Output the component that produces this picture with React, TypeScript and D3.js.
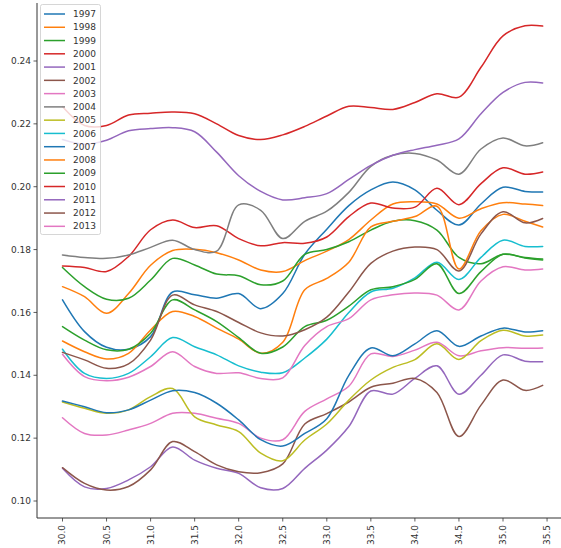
import React from 'react';
import * as d3 from 'd3';

// Sample positions shared by every yearly series
const xs = [30.0, 30.25, 30.5, 30.75, 31.0, 31.25, 31.5, 31.75, 32.0, 32.25, 32.5, 32.75,
  33.0, 33.25, 33.5, 33.75, 34.0, 34.25, 34.5, 34.75, 35.0, 35.25, 35.45];

const years = ['1997', '1998', '1999', '2000', '2001', '2002', '2003', '2004', '2005',
  '2006', '2007', '2008', '2009', '2010', '2011', '2012', '2013'];

const y1997 = [0.1640, 0.1539, 0.1489, 0.1483, 0.1523, 0.1665, 0.1656, 0.1645, 0.1660, 0.1612, 0.1660, 0.1785, 0.1865, 0.1940, 0.1990, 0.2015, 0.1990, 0.1925, 0.1878, 0.1945, 0.1998, 0.1985, 0.1983];
const y1998 = [0.1682, 0.1650, 0.1597, 0.1660, 0.1750, 0.1797, 0.1801, 0.1790, 0.1767, 0.1735, 0.1730, 0.1765, 0.1795, 0.1832, 0.1894, 0.1945, 0.1952, 0.1945, 0.1900, 0.1930, 0.1949, 0.1945, 0.1940];
const y1999 = [0.1743, 0.1682, 0.1642, 0.1645, 0.1703, 0.1772, 0.1751, 0.1722, 0.1717, 0.1688, 0.1700, 0.1785, 0.1800, 0.1825, 0.1862, 0.1890, 0.1892, 0.1862, 0.1775, 0.1755, 0.1785, 0.1775, 0.1770];
const y2000 = [0.1748, 0.1743, 0.1730, 0.1778, 0.1863, 0.1894, 0.1870, 0.1876, 0.1835, 0.1812, 0.1822, 0.1820, 0.1840, 0.1905, 0.1948, 0.1932, 0.1935, 0.1995, 0.1943, 0.2010, 0.2060, 0.2040, 0.2047];
const y2001 = [0.1104, 0.1045, 0.1040, 0.1067, 0.1109, 0.1172, 0.1130, 0.1104, 0.1088, 0.1042, 0.1040, 0.1104, 0.1162, 0.1237, 0.1350, 0.1340, 0.1390, 0.1430, 0.1340, 0.1400, 0.1465, 0.1445, 0.1443];
const y2002 = [0.1106, 0.1056, 0.1035, 0.1046, 0.1099, 0.1189, 0.1157, 0.1115, 0.1093, 0.1090, 0.1118, 0.1245, 0.1278, 0.1315, 0.1362, 0.1375, 0.1390, 0.1345, 0.1205, 0.1305, 0.1385, 0.1352, 0.1368];
const y2003 = [0.1265, 0.1215, 0.1210, 0.1226, 0.1247, 0.1279, 0.1279, 0.1263, 0.1247, 0.1200, 0.1195, 0.1285, 0.1325, 0.1365, 0.1468, 0.1460, 0.1480, 0.1505, 0.1462, 0.1478, 0.1488, 0.1486, 0.1487];
const y2004 = [0.1783, 0.1775, 0.1772, 0.1783, 0.1807, 0.1830, 0.1800, 0.1795, 0.1942, 0.1925, 0.1835, 0.1890, 0.1922, 0.1982, 0.2065, 0.2100, 0.2106, 0.2085, 0.2040, 0.2120, 0.2155, 0.2130, 0.2140];
const y2005 = [0.1315, 0.1295, 0.1279, 0.1290, 0.1332, 0.1358, 0.1268, 0.1242, 0.1221, 0.1152, 0.1128, 0.1194, 0.1245, 0.1321, 0.1385, 0.1425, 0.1450, 0.1500, 0.1450, 0.1510, 0.1543, 0.1525, 0.1528];
const y2006 = [0.1483, 0.1406, 0.1390, 0.1406, 0.1459, 0.1520, 0.1491, 0.1465, 0.1430, 0.1410, 0.1408, 0.1455, 0.1515, 0.1600, 0.1665, 0.1677, 0.1710, 0.1760, 0.1705, 0.1775, 0.1830, 0.1810, 0.1810];
const y2007 = [0.1318, 0.1300, 0.1281, 0.1290, 0.1321, 0.1351, 0.1345, 0.1311, 0.1258, 0.1195, 0.1175, 0.1215, 0.1262, 0.1400, 0.1487, 0.1462, 0.1500, 0.1542, 0.1492, 0.1525, 0.1550, 0.1538, 0.1542];
const y2008 = [0.1509, 0.1475, 0.1452, 0.1470, 0.1544, 0.1603, 0.1587, 0.1550, 0.1515, 0.1470, 0.1505, 0.1672, 0.1708, 0.1760, 0.1872, 0.1890, 0.1905, 0.1938, 0.1738, 0.1860, 0.1912, 0.1890, 0.1872];
const y2009 = [0.1555, 0.1512, 0.1481, 0.1483, 0.1534, 0.1640, 0.1608, 0.1571, 0.1520, 0.1470, 0.1490, 0.1555, 0.1575, 0.1620, 0.1672, 0.1682, 0.1705, 0.1755, 0.1660, 0.1730, 0.1785, 0.1773, 0.1767];
const y2010 = [0.2255, 0.2195, 0.2195, 0.2228, 0.2234, 0.2238, 0.2232, 0.2200, 0.2163, 0.2150, 0.2165, 0.2192, 0.2225, 0.2256, 0.2252, 0.2246, 0.2268, 0.2296, 0.2285, 0.2380, 0.2480, 0.2512, 0.2511];
const y2011 = [0.2150, 0.2135, 0.2148, 0.2178, 0.2185, 0.2188, 0.2175, 0.2110, 0.2035, 0.1985, 0.1958, 0.1965, 0.1978, 0.2023, 0.2068, 0.2100, 0.2118, 0.2132, 0.2152, 0.2232, 0.2300, 0.2332, 0.2330];
const y2012 = [0.1473, 0.1449, 0.1422, 0.1436, 0.1512, 0.1655, 0.1624, 0.1603, 0.1568, 0.1535, 0.1525, 0.1545, 0.1585, 0.1665, 0.1756, 0.1795, 0.1808, 0.1800, 0.1732, 0.1850, 0.1920, 0.1885, 0.1899];
const y2013 = [0.1467, 0.1396, 0.1383, 0.1394, 0.1428, 0.1475, 0.1428, 0.1406, 0.1408, 0.1390, 0.1392, 0.1495, 0.1555, 0.1580, 0.1640, 0.1656, 0.1662, 0.1655, 0.1608, 0.1700, 0.1745, 0.1735, 0.1738];

const seriesValues = [y1997, y1998, y1999, y2000, y2001, y2002, y2003, y2004, y2005,
  y2006, y2007, y2008, y2009, y2010, y2011, y2012, y2013];

const xTicks = [30.0, 30.5, 31.0, 31.5, 32.0, 32.5, 33.0, 33.5, 34.0, 34.5, 35.0, 35.5];
const yTicks = [0.10, 0.12, 0.14, 0.16, 0.18, 0.20, 0.22, 0.24];

const W = 561;
const H = 548;
const axLeft = 37;
const axBottom = 518;
const axTop = 3;

const xScale = d3.scaleLinear().domain([30, 35]).range([62.5, 503]);
const yScale = d3.scaleLinear().domain([0.10, 0.24]).range([501, 61]);

const palette = d3.schemeCategory10;
const font = "'DejaVu Sans', sans-serif";
const ink = '#333';

export default function App() {
  const line = d3
    .line<[number, number]>()
    .x((d) => xScale(d[0]))
    .y((d) => yScale(d[1]))
    .curve(d3.curveCatmullRom.alpha(0.5));

  const legendX = 40.5;
  const legendY = 4.5;
  const rowH = 13.27;

  return (
    <svg
      width={W}
      height={H}
      style={{ position: 'absolute', left: 0, top: 0, background: '#fff' }}
      fontFamily={font}
    >
      <rect x={0} y={0} width={W} height={H} fill="#fff" />

      {/* yearly curves */}
      <g fill="none" strokeWidth={1.5} strokeLinejoin="round" strokeLinecap="round">
        {seriesValues.map((vals, i) => (
          <path
            key={years[i]}
            d={line(xs.map((x, j) => [x, vals[j]] as [number, number])) || ''}
            stroke={palette[i % palette.length]}
          />
        ))}
      </g>

      {/* spines */}
      <line x1={axLeft} x2={axLeft} y1={axTop} y2={axBottom} stroke={ink} strokeWidth={1} />
      <line x1={axLeft} x2={W} y1={axBottom} y2={axBottom} stroke={ink} strokeWidth={1} />

      {/* y axis */}
      {yTicks.map((t) => (
        <g key={t}>
          <line x1={axLeft - 3.5} x2={axLeft} y1={yScale(t)} y2={yScale(t)} stroke={ink} strokeWidth={0.8} />
          <text x={axLeft - 6} y={yScale(t)} dy="0.35em" textAnchor="end" fontSize={9} fill={ink}>
            {t.toFixed(2)}
          </text>
        </g>
      ))}

      {/* x axis */}
      {xTicks.map((t) => (
        <g key={t}>
          <line x1={xScale(t)} x2={xScale(t)} y1={axBottom} y2={axBottom + 3.5} stroke={ink} strokeWidth={0.8} />
          <text
            transform={`translate(${xScale(t)},${axBottom + 7}) rotate(-90)`}
            dy="0.33em"
            textAnchor="end"
            fontSize={9}
            fill={ink}
          >
            {t.toFixed(1)}
          </text>
        </g>
      ))}

      {/* legend */}
      <g>
        <rect
          x={legendX}
          y={legendY}
          width={60}
          height={230}
          rx={2}
          fill="#fff"
          fillOpacity={0.8}
          stroke="#ccc"
          strokeWidth={0.8}
        />
        {years.map((yr, i) => {
          const cy = 14 + i * rowH;
          return (
            <g key={yr}>
              <line x1={44} x2={65} y1={cy} y2={cy} stroke={palette[i % palette.length]} strokeWidth={1.5} />
              <text x={73} y={cy} dy="0.35em" fontSize={9} fill={ink}>
                {yr}
              </text>
            </g>
          );
        })}
      </g>
    </svg>
  );
}
